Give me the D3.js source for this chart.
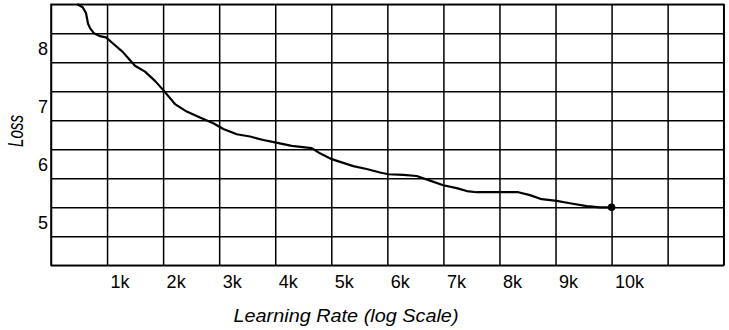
<!DOCTYPE html>
<html>
<head>
<meta charset="utf-8">
<script src="https://cdn.jsdelivr.net/npm/d3@7/dist/d3.min.js"></script>
<style>
  html, body { margin: 0; padding: 0; background: #fff; }
  svg { display: block; }
  text { font-family: "Liberation Sans", Arial, sans-serif; fill: #000; }
</style>
</head>
<body>
<svg id="chart" width="729" height="330"></svg>
<script>
// Training loss sampled along the learning-rate sweep
const lrSteps = [469, 565, 624, 660, 696, 767, 874, 981, 1111, 1279, 1379, 1498, 1677, 1855,
  2003, 2212, 2421, 2658, 2895, 3074, 3313, 3550, 3787, 3996, 4294, 4650, 4798, 5007,
  5392, 5631, 5869, 6017, 6284, 6523, 6761, 6998, 7237, 7415, 7594, 7831, 8336, 8544,
  8753, 9021, 9258, 9556, 9793, 10000];
const lossValues = [8.75, 8.70, 8.60, 8.42, 8.34, 8.25, 8.20, 8.18, 8.07, 7.93, 7.82, 7.69,
  7.59, 7.43, 7.27, 7.03, 6.90, 6.80, 6.70, 6.60, 6.51, 6.47, 6.41, 6.37, 6.31, 6.27,
  6.18, 6.08, 5.96, 5.91, 5.85, 5.82, 5.81, 5.79, 5.71, 5.63, 5.58, 5.53, 5.51, 5.51,
  5.51, 5.46, 5.39, 5.36, 5.32, 5.27, 5.25, 5.25];

const xTickValues = [1000, 2000, 3000, 4000, 5000, 6000, 7000, 8000, 9000, 10000];
const xTickLabels = ["1k", "2k", "3k", "4k", "5k", "6k", "7k", "8k", "9k", "10k"];
const yTickValues = [5, 6, 7, 8];
const xGridValues = d3.range(0, 12001, 1000);
const yGridValues = d3.range(4.25, 8.76, 0.5);

const margin = { left: 51, right: 5.3, top: 4.3, bottom: 64.7 };
const W = 729, H = 330;
const w = W - margin.left - margin.right;
const h = H - margin.top - margin.bottom;

const svg = d3.select("#chart");
const g = svg.append("g").attr("transform", `translate(${margin.left},${margin.top})`);

const x = d3.scaleLinear().domain([0, 12000]).range([0, w]);
const y = d3.scaleLinear().domain([4.25, 8.75]).range([h, 0]);

// vertical grid lines with the k labels sitting just right of each line
const xAxis = g.append("g")
  .attr("transform", `translate(0,${h})`)
  .call(d3.axisBottom(x).tickValues(xGridValues).tickSize(-h).tickSizeOuter(0)
    .tickFormat(d => { const i = xTickValues.indexOf(d); return i >= 0 ? xTickLabels[i] : ""; }));
xAxis.select(".domain").remove();
xAxis.selectAll(".tick line").attr("stroke", "#000").attr("stroke-width", 1.5);
xAxis.selectAll(".tick text")
  .attr("text-anchor", "start")
  .attr("x", 3)
  .attr("y", 22.7)
  .attr("dy", null)
  .style("font-size", "18px");

// horizontal grid lines
const yGrid = g.append("g")
  .call(d3.axisLeft(y).tickValues(yGridValues).tickSize(-w).tickSizeOuter(0).tickFormat(""));
yGrid.select(".domain").remove();
yGrid.selectAll(".tick line").attr("stroke", "#000").attr("stroke-width", 1.5);

// loss labels centred in alternating rows
const yAxis = g.append("g")
  .call(d3.axisLeft(y).tickValues(yTickValues).tickSize(0).tickPadding(3).tickFormat(d3.format("d")));
yAxis.select(".domain").remove();
yAxis.selectAll(".tick text").style("font-size", "18px").attr("dy", "0.36em");

// plot frame
g.append("rect").attr("width", w).attr("height", h)
  .attr("fill", "none").attr("stroke", "#000").attr("stroke-width", 1.5);

// loss curve
const pts = lrSteps.map((s, i) => [s, lossValues[i]]);
g.append("path")
  .datum(pts)
  .attr("fill", "none")
  .attr("stroke", "#000")
  .attr("stroke-width", 2.2)
  .attr("stroke-linejoin", "round")
  .attr("d", d3.line().x(d => x(d[0])).y(d => y(d[1])));

const last = pts[pts.length - 1];
g.append("circle").attr("cx", x(last[0])).attr("cy", y(last[1])).attr("r", 3.8).attr("fill", "#000");

// axis titles
svg.append("text")
  .attr("x", 346).attr("y", 322.3)
  .attr("text-anchor", "middle")
  .attr("textLength", 225).attr("lengthAdjust", "spacingAndGlyphs")
  .style("font-size", "18px").style("font-style", "italic")
  .text("Learning Rate (log Scale)");

svg.append("text")
  .attr("transform", "translate(23,131) rotate(-90)")
  .attr("text-anchor", "middle")
  .attr("textLength", 32).attr("lengthAdjust", "spacingAndGlyphs")
  .style("font-size", "22px").style("font-style", "italic")
  .text("Loss");
</script>
</body>
</html>
